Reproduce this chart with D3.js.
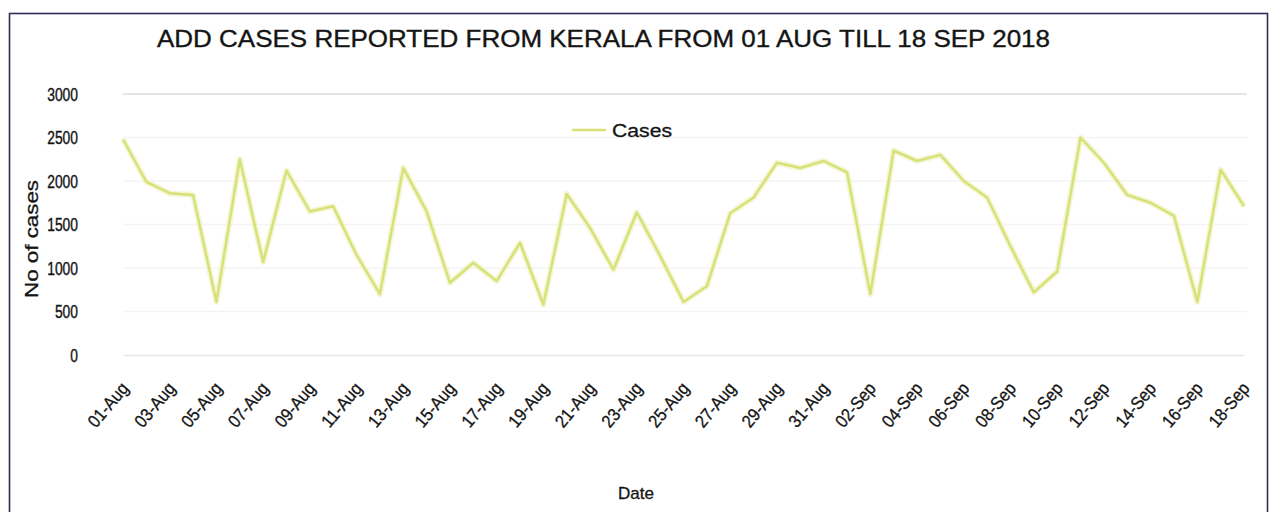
<!DOCTYPE html>
<html>
<head>
<meta charset="utf-8">
<script src="https://cdn.jsdelivr.net/npm/d3@7"></script>
<style>
  html, body { margin: 0; padding: 0; background: #ffffff; }
  svg { display: block; font-family: "Liberation Sans", Arial, sans-serif; }
</style>
</head>
<body>
<svg id="chart" width="1274" height="512"></svg>
<script>
// Daily case counts reported from Kerala, 01 Aug – 18 Sep 2018
const dates = [
  "01-Aug","02-Aug","03-Aug","04-Aug","05-Aug","06-Aug","07-Aug","08-Aug","09-Aug","10-Aug",
  "11-Aug","12-Aug","13-Aug","14-Aug","15-Aug","16-Aug","17-Aug","18-Aug","19-Aug","20-Aug",
  "21-Aug","22-Aug","23-Aug","24-Aug","25-Aug","26-Aug","27-Aug","28-Aug","29-Aug","30-Aug",
  "31-Aug","01-Sep","02-Sep","03-Sep","04-Sep","05-Sep","06-Sep","07-Sep","08-Sep","09-Sep",
  "10-Sep","11-Sep","12-Sep","13-Sep","14-Sep","15-Sep","16-Sep","17-Sep","18-Sep"
];

const cases = [
  2480, 1990, 1860, 1840,  610, 2250, 1070, 2120, 1650, 1710,
  1150,  700, 2150, 1650,  830, 1060,  850, 1290,  580, 1850,
  1460,  980, 1640, 1140,  610,  790, 1630, 1810, 2210, 2150,
  2230, 2100,  700, 2350, 2230, 2300, 2000, 1810, 1250,  720,
   960, 2500, 2210, 1840, 1750, 1600,  610, 2130, 1710
];

// Every other date is labelled on the category axis
const xTickLabels = [
  "01-Aug","03-Aug","05-Aug","07-Aug","09-Aug","11-Aug","13-Aug","15-Aug","17-Aug","19-Aug",
  "21-Aug","23-Aug","25-Aug","27-Aug","29-Aug","31-Aug","02-Sep","04-Sep","06-Sep","08-Sep",
  "10-Sep","12-Sep","14-Sep","16-Sep","18-Sep"
];

const yTicks = [0, 500, 1000, 1500, 2000, 2500, 3000];

const titleText = "ADD CASES REPORTED FROM KERALA FROM 01 AUG TILL 18 SEP 2018";
const seriesName = "Cases";

// ---- layout ----
const plot = { left: 123, right: 1244, top: 94, bottom: 355 };
const lineColor = "#d8e176";
const ink = "#141414";

const svg = d3.select("#chart");

// outer frame
svg.append("rect")
  .attr("x", 9.5).attr("y", 13.5)
  .attr("width", 1258).attr("height", 520)
  .attr("fill", "#ffffff")
  .attr("stroke", "#2e2d5c")
  .attr("stroke-width", 1.6);

const x = d3.scalePoint().domain(dates).range([plot.left, plot.right]);
const y = d3.scaleLinear().domain([0, 3000]).range([plot.bottom, plot.top]);

// horizontal gridlines
svg.append("g")
  .selectAll("line")
  .data(yTicks.filter(d => d > 0))
  .join("line")
  .attr("x1", plot.left).attr("x2", plot.right + 3)
  .attr("y1", d => y(d)).attr("y2", d => y(d))
  .attr("stroke", d => d === 3000 ? "#dcdcdc" : "#f4f4f4")
  .attr("stroke-width", 1.3);

// y axis (labels only)
const yAxis = svg.append("g")
  .attr("transform", `translate(${plot.left},0)`)
  .call(d3.axisLeft(y).tickValues(yTicks).tickFormat(d3.format("d"))
    .tickSize(0).tickPadding(plot.left - 78));
yAxis.select(".domain").remove();
yAxis.selectAll("text")
  .attr("font-size", 19)
  .attr("fill", ink)
  .attr("stroke", ink)
  .attr("stroke-width", 0.4)
  .attr("textLength", d => String(d).length * 7.7)
  .attr("lengthAdjust", "spacingAndGlyphs");

// x axis
const xAxis = svg.append("g")
  .attr("transform", `translate(0,${plot.bottom})`)
  .call(d3.axisBottom(x).tickValues(xTickLabels).tickSize(0));
xAxis.select(".domain")
  .attr("stroke", "#e6e6e6")
  .attr("stroke-width", 1.3);
xAxis.selectAll("text")
  .attr("font-size", 18)
  .attr("fill", ink)
  .attr("stroke", ink)
  .attr("stroke-width", 0.3)
  .attr("text-anchor", "end")
  .attr("textLength", 52)
  .attr("lengthAdjust", "spacingAndGlyphs")
  .attr("y", 0).attr("dy", 0)
  .attr("transform", "translate(6,34) rotate(-50)");

// series line with a soft halo
const line = d3.line()
  .x((d, i) => x(dates[i]))
  .y(d => y(d));

svg.append("path")
  .datum(cases)
  .attr("d", line)
  .attr("fill", "none")
  .attr("stroke", "#eef3c6")
  .attr("stroke-width", 6)
  .attr("stroke-linejoin", "round")
  .attr("opacity", 0.7);

svg.append("path")
  .datum(cases)
  .attr("d", line)
  .attr("fill", "none")
  .attr("stroke", lineColor)
  .attr("stroke-width", 2.5)
  .attr("stroke-linejoin", "round");

// title
svg.append("text")
  .attr("x", 157).attr("y", 47)
  .attr("font-size", 23)
  .attr("fill", ink)
  .attr("stroke", ink)
  .attr("stroke-width", 0.35)
  .attr("textLength", 893)
  .attr("lengthAdjust", "spacingAndGlyphs")
  .text(titleText);

// legend
const legend = svg.append("g");
legend.append("line")
  .attr("x1", 572).attr("x2", 606)
  .attr("y1", 130).attr("y2", 130)
  .attr("stroke", lineColor)
  .attr("stroke-width", 2.6);
legend.append("text")
  .attr("x", 612).attr("y", 137)
  .attr("font-size", 18)
  .attr("fill", ink)
  .attr("stroke", ink)
  .attr("stroke-width", 0.3)
  .attr("textLength", 60)
  .attr("lengthAdjust", "spacingAndGlyphs")
  .text(seriesName);

// axis titles
svg.append("text")
  .attr("transform", "translate(38,239) rotate(-90)")
  .attr("text-anchor", "middle")
  .attr("font-size", 18)
  .attr("fill", ink)
  .attr("stroke", ink)
  .attr("stroke-width", 0.3)
  .attr("textLength", 118)
  .attr("lengthAdjust", "spacingAndGlyphs")
  .text("No of cases");

svg.append("text")
  .attr("x", 636).attr("y", 499)
  .attr("text-anchor", "middle")
  .attr("font-size", 17)
  .attr("fill", ink)
  .attr("stroke", ink)
  .attr("stroke-width", 0.3)
  .attr("textLength", 36)
  .attr("lengthAdjust", "spacingAndGlyphs")
  .text("Date");
</script>
</body>
</html>
